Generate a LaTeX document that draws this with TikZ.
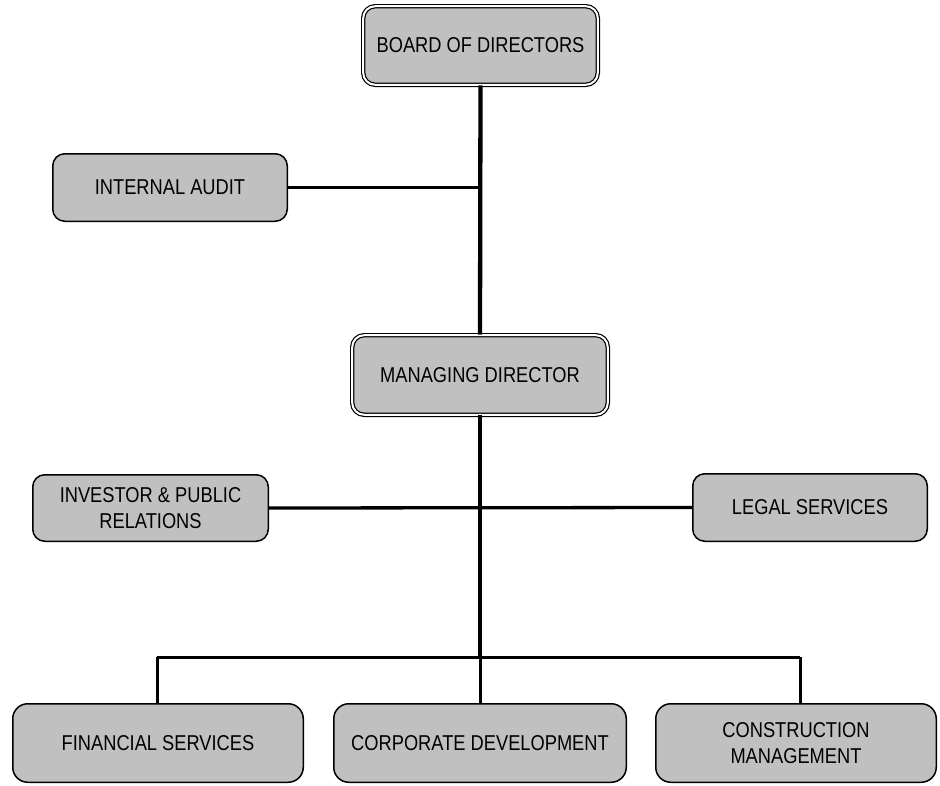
\documentclass[tikz,border=0pt]{standalone}
\usepackage{fontspec}
\setmainfont{Liberation Sans}[FakeStretch=0.85]
\definecolor{boxgray}{HTML}{C0C0C0}
\tikzset{
  box/.style={draw, line width=1.5pt, fill=boxgray, rounded corners=12pt, inner sep=0pt,
    align=center, font=\fontsize{21.5}{25.5}\selectfont},
  bigbox/.style={box, rounded corners=15pt},
  dbox/.style={box, double, line width=1.2pt, double distance=2pt},
  link/.style={line width=3.3pt},
  trunk/.style={line width=4.3pt},
  drop/.style={line width=3pt},
}
\begin{document}
\begin{tikzpicture}[x=1pt, y=-1pt]
\useasboundingbox (0,0) rectangle (940,785);
% nodes
\node[dbox, minimum width=234.6pt, minimum height=78.6pt] (bod) at (480.5,45.5) {BOARD OF DIRECTORS};
\node[dbox, minimum width=255.6pt, minimum height=79.6pt] (md) at (480,375) {MANAGING DIRECTOR};
\node[box, minimum width=234.5pt, minimum height=67.5pt] (ia) at (170,187.5) {INTERNAL AUDIT};
\node[box, minimum width=235.5pt, minimum height=66.5pt] (ipr) at (150.5,508) {INVESTOR \& PUBLIC\\RELATIONS};
\node[box, minimum width=234.5pt, minimum height=67.5pt] (legal) at (810,507.5) {LEGAL SERVICES};
\node[bigbox, minimum width=290.5pt, minimum height=78.5pt] (fin) at (158,743) {FINANCIAL SERVICES};
\node[bigbox, minimum width=292.5pt, minimum height=78.5pt] (corp) at (480,743) {CORPORATE DEVELOPMENT};
\node[bigbox, minimum width=280.5pt, minimum height=78.5pt] (cons) at (796,743) {CONSTRUCTION\\MANAGEMENT};
% bus coordinates
\coordinate (bus) at (480,657);
\coordinate (busL) at (157,657);
\coordinate (busR) at (800,657);
% connectors
\draw[trunk] (bod.south) -- (md.north);
\draw[link] (ia.east) -- (ia.east -| bod.south);
\draw[trunk] (md.south) -- (bus);
\draw[link] (ipr.east) -- (legal.west);
\draw[drop] (busL) -- (busR);
\draw[drop] (busL) -- (busL |- fin.north);
\draw[drop] (bus) -- (corp.north);
\draw[drop] (busR) -- (busR |- cons.north);
\end{tikzpicture}
\end{document}
